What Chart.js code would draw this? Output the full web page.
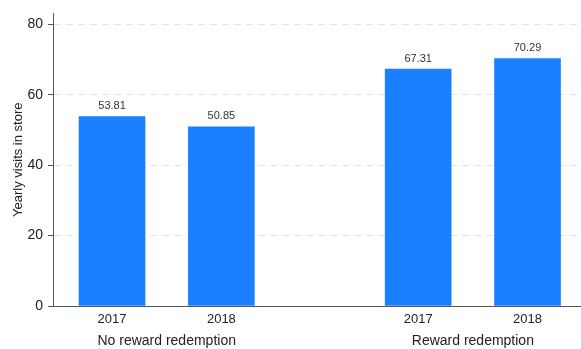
<!DOCTYPE html>
<html>
<head>
<meta charset="utf-8">
<script src="https://cdn.jsdelivr.net/npm/chart.js@4"></script>
<style>
  body { margin: 0; background: #fff; }
  #wrap { width: 581px; height: 349px; }
</style>
</head>
<body>
<div id="wrap"><canvas id="myChart"></canvas></div>
<script>
// Yearly store visits, by reward redemption group
const groups = ['No reward redemption', 'Reward redemption'];
const years = ['2017', '2018'];
const noRedemption = [53.81, 50.85];
const redemption = [67.31, 70.29];
const yTicks = [0, 20, 40, 60, 80];

const FONT = 'Liberation Sans, Arial, Helvetica, sans-serif';
const groupStep = 2.8;

// bar x positions (group offset + year index)
const points = [];
const tickPos = [];
const tickText = [];
[noRedemption, redemption].forEach((vals, g) => {
    vals.forEach((v, j) => {
        const x = 1 + g * groupStep + j;
        points.push({x: x, y: v});
        tickPos.push(x);
        tickText.push(years[j]);
    });
});

// value labels above bars + group labels under the axis
const barLabels = {
    id: 'barLabels',
    afterDatasetsDraw(chart) {
        const c = chart.ctx;
        const meta = chart.getDatasetMeta(0);
        c.save();
        c.fillStyle = '#333';
        c.font = '11px ' + FONT;
        c.textAlign = 'center';
        c.textBaseline = 'bottom';
        meta.data.forEach((bar, i) => {
            c.fillText(points[i].y.toFixed(2), bar.x, bar.y - 5);
        });
        c.restore();
    },
    afterDraw(chart) {
        const c = chart.ctx;
        const xs = chart.scales.x;
        c.save();
        c.fillStyle = '#222';
        c.font = '14px ' + FONT;
        c.textAlign = 'center';
        c.textBaseline = 'middle';
        groups.forEach((name, g) => {
            const mid = 1 + g * groupStep + 0.5;
            c.fillText(name, xs.getPixelForValue(mid), chart.chartArea.bottom + 35);
        });
        c.restore();
    }
};

const ctx = document.getElementById('myChart');

new Chart(ctx, {
    type: 'bar',
    data: {
        datasets: [{
            data: points,
            backgroundColor: '#1a80ff',
            borderWidth: 0,
            barThickness: 66
        }]
    },
    options: {
        responsive: true,
        maintainAspectRatio: false,
        animation: false,
        layout: { padding: { top: 6, right: 1, left: 0, bottom: 0 } },
        plugins: {
            legend: { display: false },
            tooltip: { enabled: false }
        },
        scales: {
            x: {
                type: 'linear',
                min: 0.46,
                max: 5.28,
                offset: false,
                grid: { display: false, drawTicks: false },
                border: { display: true, color: '#555', width: 1 },
                afterBuildTicks: s => { s.ticks = tickPos.map(v => ({value: v})); },
                afterFit: s => { s.height = 43; },
                ticks: {
                    autoSkip: false,
                    maxRotation: 0,
                    padding: 6,
                    color: '#222',
                    font: { family: FONT, size: 13 },
                    callback: v => {
                        const i = tickPos.indexOf(v);
                        return i >= 0 ? tickText[i] : '';
                    }
                }
            },
            y: {
                min: 0,
                max: 83.1,
                afterBuildTicks: s => { s.ticks = yTicks.map(v => ({value: v})); },
                afterFit: s => { s.width = 53; },
                grid: {
                    color: ctx => ctx.tick && ctx.tick.value === 0 ? 'rgba(0,0,0,0)' : '#e2e2e2',
                    tickColor: '#555',
                    tickBorderDash: [],
                    tickLength: 5,
                    drawTicks: true
                },
                border: { display: true, color: '#555', width: 1, dash: [7, 5] },
                ticks: {
                    padding: 5,
                    color: '#222',
                    font: { family: FONT, size: 14 }
                },
                title: {
                    display: true,
                    text: 'Yearly visits in store',
                    color: '#222',
                    font: { family: FONT, size: 13 },
                    padding: { top: 11, bottom: 0 }
                }
            }
        }
    },
    plugins: [barLabels]
});
</script>
</body>
</html>
